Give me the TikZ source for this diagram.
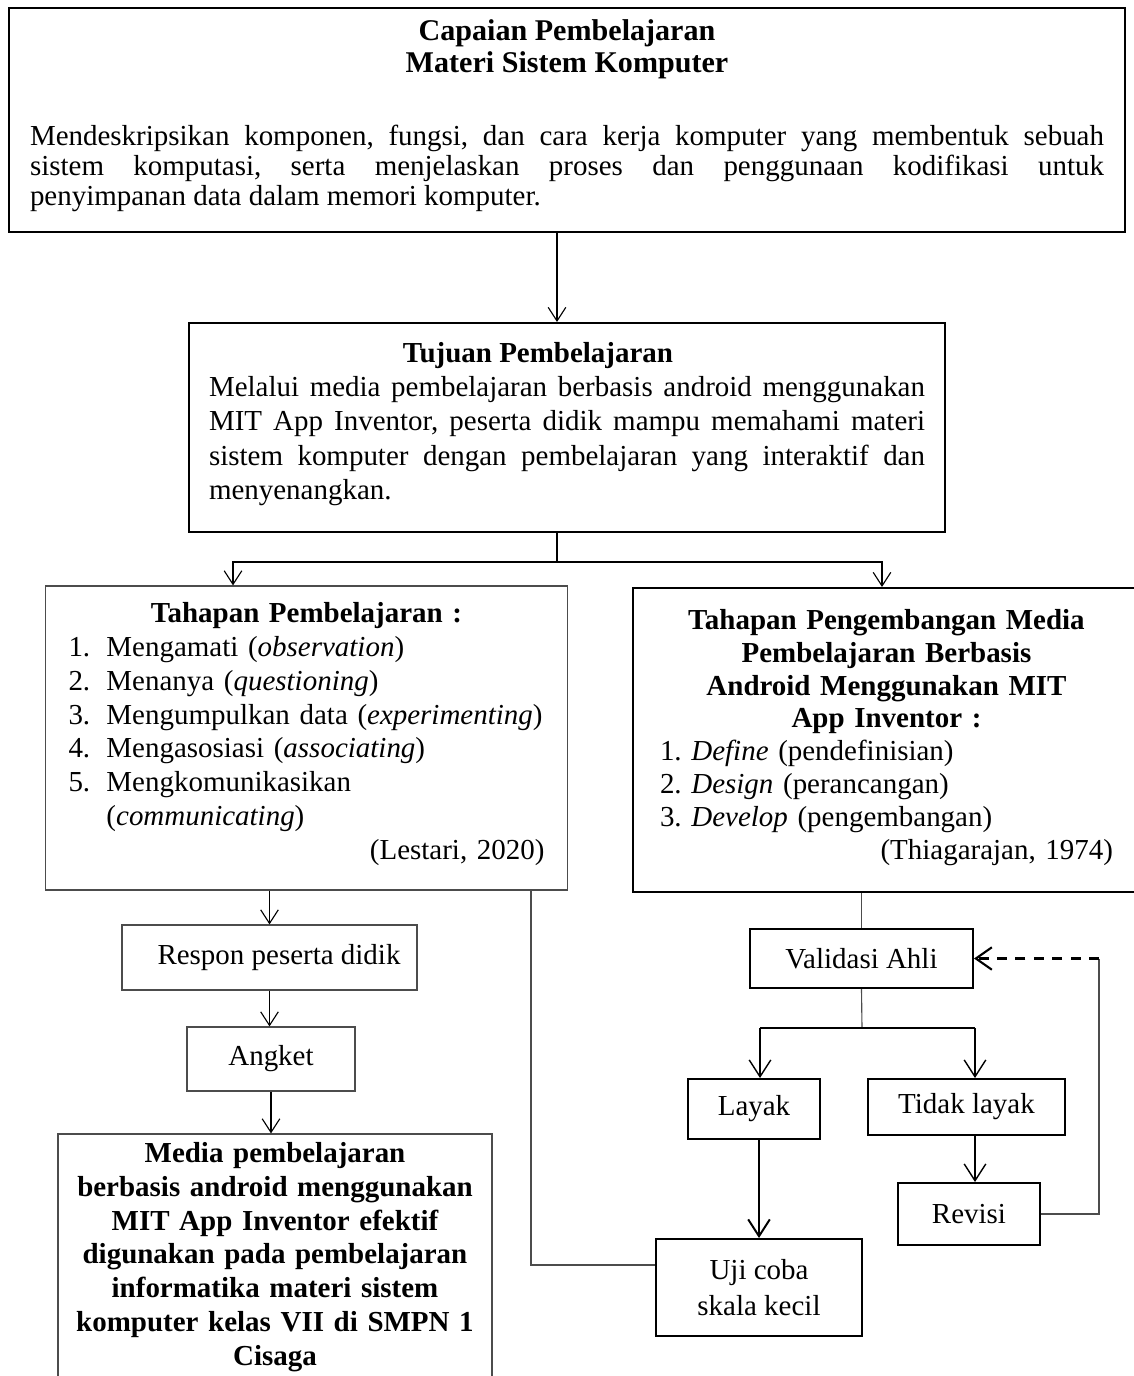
\documentclass[tikz,border=0pt]{standalone}
\usepackage{fontspec}
\setmainfont{Liberation Serif}
\usetikzlibrary{arrows.meta}
\newlength\px
\setlength\px{0.025cm}
\hbadness=10000
\frenchspacing
% fixed space below the last line of a box text
\newcommand\padbelow[1]{\par\kern#1\hrule height 0pt width 0pt}

\begin{document}
\begin{tikzpicture}[x=0.025cm, y=-0.025cm,
    font=\fontsize{20.6pt}{24pt}\selectfont,
    box/.style={draw, line width=1.4pt, inner sep=0pt},
    lightbox/.style={draw=black!70, line width=0.8pt, inner sep=0pt},
    conn/.style={line width=0.8pt},
    grayconn/.style={draw=black!70, line width=0.8pt},
    arr/.style={-{Straight Barb[length=3.4mm,width=4.4mm]}},
    bigarr/.style={line width=1pt, -{Straight Barb[length=4.2mm,width=5.4mm]}},
    backarr/.style={line width=1.5pt, dash pattern=on 2.5mm off 2.1mm,
      -{Straight Barb[length=4mm,width=5.6mm]}}]
  \useasboundingbox (0,0) rectangle (1133,1376);

  % capaian dan tujuan
  \node[box, minimum width=27.9cm, minimum height=5.6cm, text width=1074\px,
      align=justify, font=\fontsize{20.6pt}{21.3pt}\selectfont] (cp) at (567,120)
    {{\centering\bfseries\fontsize{21.4pt}{21.3pt}\selectfont
      Capaian Pembelajaran\\[2\px] Materi Sistem Komputer\par}
     \vspace{43\px}
     Mendeskripsikan komponen, fungsi, dan cara kerja komputer yang membentuk sebuah\linebreak
     sistem komputasi, serta menjelaskan proses dan penggunaan kodifikasi untuk\linebreak
     penyimpanan data dalam memori komputer.\padbelow{8\px}};
  \node[box, minimum width=18.9cm, minimum height=5.225cm, text width=716\px,
      align=justify, font=\fontsize{20.6pt}{24.5pt}\selectfont] (tp) at (567,427.5)
    {{\centering\bfseries Tujuan Pembelajaran\hspace*{58\px}\par}
     Melalui media pembelajaran berbasis android menggunakan\linebreak
     MIT App Inventor, peserta didik mampu memahami materi\linebreak
     sistem komputer dengan pembelajaran yang interaktif dan\linebreak
     menyenangkan.\padbelow{7\px}};

  % tahapan
  \node[lightbox, minimum width=13.025cm, minimum height=7.6cm, text width=476\px,
      align=left] (lb) at (306.5,738)
    {{\centering\bfseries Tahapan Pembelajaran :\par}
     \makebox[38\px][l]{1.}Mengamati (\textit{observation})\\
     \makebox[38\px][l]{2.}Menanya (\textit{questioning})\\
     \makebox[38\px][l]{3.}Mengumpulkan data (\textit{experimenting})\\
     \makebox[38\px][l]{4.}Mengasosiasi (\textit{associating})\\
     \makebox[38\px][l]{5.}Mengkomunikasikan\\
     \hspace*{38\px}(\textit{communicating})\\
     \hspace*{\fill}(Lestari, 2020)\padbelow{8\px}};
  \node[box, minimum width=12.675cm, minimum height=7.6cm, text width=453\px,
      align=left, font=\fontsize{20.6pt}{23.4pt}\selectfont] (rb) at (886.5,740)
    {{\centering\bfseries Tahapan Pengembangan Media\\ Pembelajaran Berbasis\\
      Android Menggunakan MIT\\ App Inventor :\par}
     1. \textit{Define} (pendefinisian)\\
     2. \textit{Design} (perancangan)\\
     3. \textit{Develop} (pengembangan)\\
     \hspace*{\fill}(Thiagarajan, 1974)\padbelow{5\px}};

  % kolom kiri
  \node[lightbox, minimum width=7.375cm, minimum height=1.625cm] (rp) at (269.5,957.5)
    {\hspace*{19\px}Respon peserta didik};
  \node[lightbox, minimum width=4.2cm, minimum height=1.6cm] (ak) at (271,1059) {Angket};
  \node[lightbox, minimum width=10.85cm, minimum height=6.65cm, text width=420\px,
      align=center, font=\bfseries\fontsize{20.6pt}{24pt}\selectfont] (md) at (275,1267)
    {Media pembelajaran\\ berbasis android menggunakan\\ MIT App Inventor efektif\\
     digunakan pada pembelajaran\\ informatika materi sistem\\
     komputer kelas VII di SMPN 1\\ Cisaga\padbelow{20\px}};

  % kolom kanan
  \node[box, minimum width=5.575cm, minimum height=1.475cm] (va) at (861.5,958.5) {Validasi Ahli};
  \node[box, minimum width=3.3cm, minimum height=1.5cm] (ly) at (754,1109) {Layak};
  \node[box, minimum width=4.925cm, minimum height=1.4cm] (tl) at (966.5,1107) {Tidak layak};
  \node[box, minimum width=3.55cm, minimum height=1.55cm] (rv) at (969,1214) {Revisi};
  \node[box, minimum width=5.15cm, minimum height=2.425cm, align=center,
      font=\fontsize{20.6pt}{25pt}\selectfont] (uc) at (759,1287.5) {Uji coba\\ skala kecil};

  \coordinate (top) at (557,0);
  \coordinate (split) at (557,562);
  \coordinate (lbx) at (233,0);
  \coordinate (rbx) at (882,0);
  \coordinate (bend) at (531,1265);
  \coordinate (vsplit) at (862,1028);
  \coordinate (lyx) at (760,0);
  \coordinate (tlx) at (975,0);
  \coordinate (loop) at (1099,0);

  \draw[conn, arr] (cp.south -| top) -- (tp.north -| top);
  \draw[conn] (tp.south -| split) -- (split);
  \draw[conn, arr] (split) -| (lb.north -| lbx);
  \draw[conn, arr] (split) -| (rb.north -| rbx);

  \draw[conn, arr] (lb.south -| rp.north) -- (rp.north);
  \draw[conn, arr] (rp.south) -- (rp.south |- ak.north);
  \draw[conn, arr] (ak.south) -- (ak.south |- md.north);
  \draw[grayconn] (lb.south -| bend) -- (bend) -- (bend -| uc.west);

  \draw[grayconn] (rb.south -| va.north) -- (va.north);
  \draw[grayconn] (va.south) -- (vsplit);
  \draw[conn] (vsplit -| lyx) -- (vsplit -| tlx);
  \draw[bigarr] (vsplit -| lyx) -- (ly.north -| lyx);
  \draw[bigarr] (vsplit -| tlx) -- (tl.north -| tlx);
  \draw[bigarr, line width=1.4pt] (ly.south -| uc.north) -- (uc.north);
  \draw[bigarr] (tl.south -| tlx) -- (rv.north -| tlx);
  \draw[grayconn] (rv.east) -| (loop |- va.east);
  \draw[backarr] (loop |- va.east) -- (va.east);
\end{tikzpicture}
\end{document}
